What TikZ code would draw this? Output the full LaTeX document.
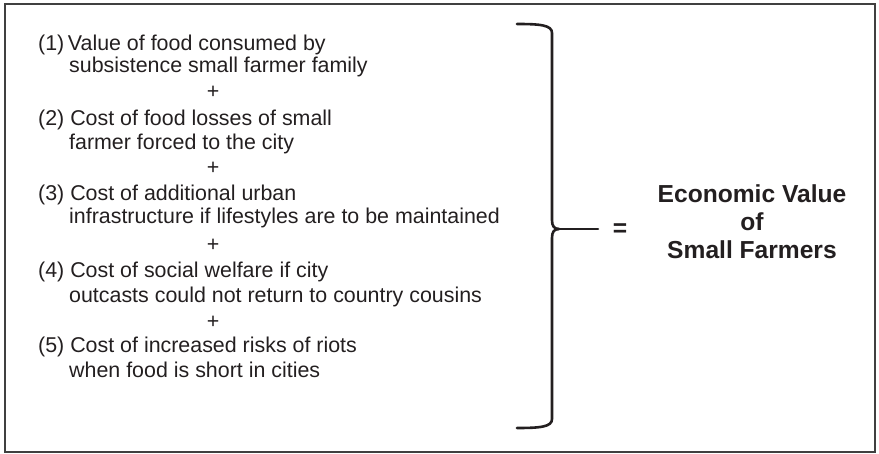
\documentclass[tikz,border=0pt]{standalone}
\usepackage{fontspec}
\setmainfont{Liberation Sans}
\usepackage{xcolor}
\usepackage{tikz}
\usetikzlibrary{positioning}
\definecolor{inkdark}{RGB}{35,31,32}
\definecolor{framegray}{RGB}{64,64,64}
\tikzset{
  frame/.style={draw=framegray,line width=2pt},
  bracepath/.style={draw=inkdark,line width=2.6pt,line cap=round},
  itemtext/.style={anchor=base west,inner sep=0pt,text=inkdark,font=\fontsize{21.4}{24}\selectfont},
  plustext/.style={anchor=base,inner sep=0pt,text=inkdark,font=\fontsize{21.4}{24}\selectfont},
  resulttext/.style={anchor=base,inner sep=0pt,align=center,text=inkdark,font=\fontsize{24.6}{28}\selectfont\bfseries}
}

\begin{document}
\begin{tikzpicture}[x=1pt,y=-1pt]
  \useasboundingbox (0,0) rectangle (879,454);
  \draw[frame] (5,4) rectangle (875,452);

  % the five items, summed
  \node[itemtext] (item1)  at (38,51)   {(1)\,Value of food consumed by};
  \node[itemtext] (item1b) at (69,73)   {subsistence small farmer family};
  \node[plustext] (plus1)  at (213,99)  {+};
  \node[itemtext] (item2)  at (38,126)  {(2) Cost of food losses of small};
  \node[itemtext] (item2b) at (69,150)  {farmer forced to the city};
  \node[plustext] (plus2)  at (213,175) {+};
  \node[itemtext] (item3)  at (38,201)  {(3) Cost of additional urban};
  \node[itemtext] (item3b) at (69,224)  {infrastructure if lifestyles are to be maintained};
  \node[plustext] (plus3)  at (213,252) {+};
  \node[itemtext] (item4)  at (38,278)  {(4) Cost of social welfare if city};
  \node[itemtext] (item4b) at (69,303)  {outcasts could not return to country cousins};
  \node[plustext] (plus4)  at (213,329) {+};
  \node[itemtext] (item5)  at (38,353)  {(5) Cost of increased risks of riots};
  \node[itemtext] (item5b) at (69,378)  {when food is short in cities};

  % brace
  \coordinate (cusp) at (559,229);
  \coordinate (armend) at (598,229);
  \draw[bracepath] (517,24) .. controls (540,24) and (552,25) .. (552,33) -- (552,220)
    .. controls (552,226) and (554,229) .. (cusp);
  \draw[bracepath] (517,428) .. controls (540,428) and (552,427) .. (552,419) -- (552,238)
    .. controls (552,232) and (554,229) .. (cusp);
  \draw[bracepath] (cusp) -- (armend);

  \node[resulttext] (equals) at (620,237) {=};
  \node[resulttext] (result) at (752,259) {Economic Value\\of\\Small Farmers};
\end{tikzpicture}
\end{document}
